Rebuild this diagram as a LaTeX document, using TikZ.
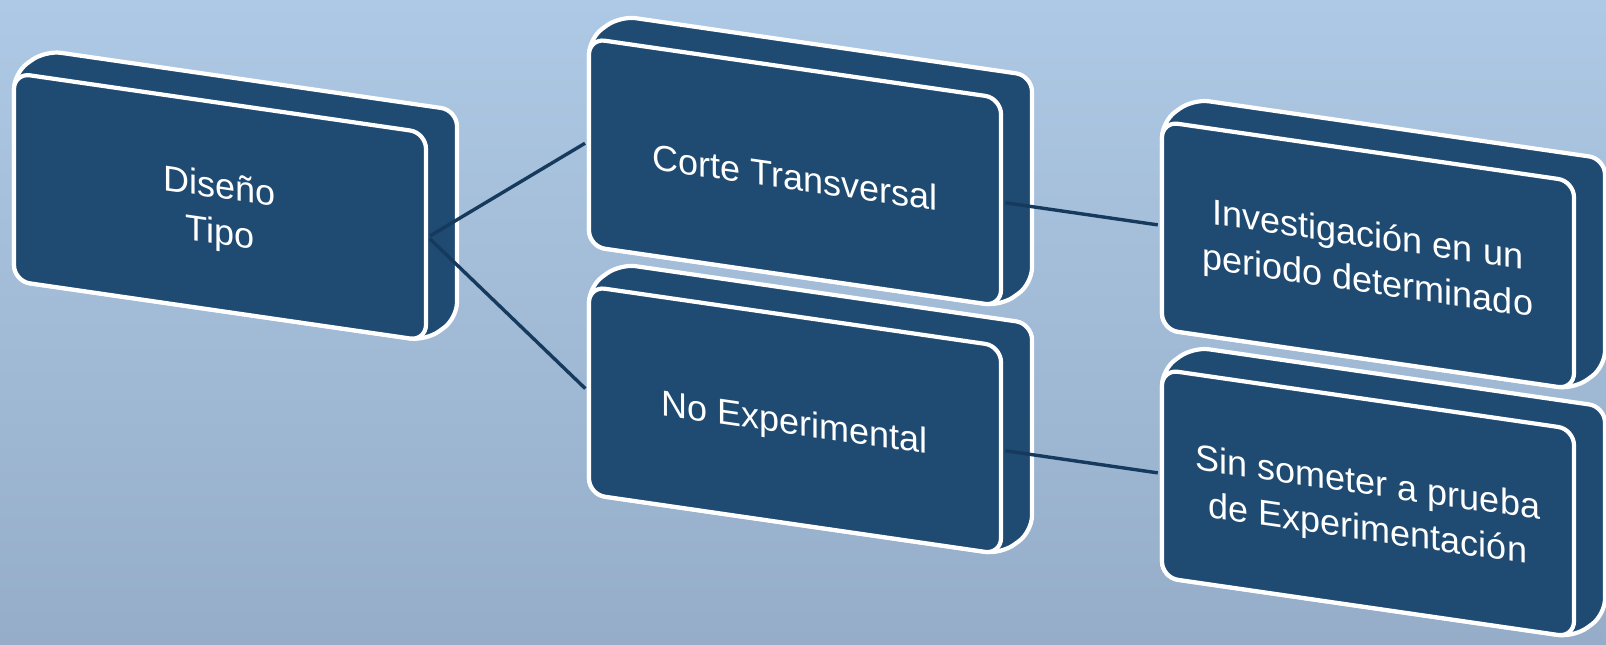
\documentclass[tikz,border=0pt]{standalone}
\usepackage{fontspec}
\newfontfamily\arialf{Liberation Sans}
\definecolor{boxfill}{RGB}{31,74,113}
\definecolor{connc}{RGB}{22,58,94}
\definecolor{bgtop}{RGB}{174,201,229}
\definecolor{bgbot}{RGB}{149,173,200}
\tikzset{
  face/.style={draw=white, line width=2.1pt, fill=boxfill, rounded corners=8pt,
    minimum width=206pt, minimum height=104pt, inner sep=0pt, transform shape},
  facetext/.style={transform shape, inner sep=0pt, text=white, align=center,
    font=\arialf\fontsize{18}{23}\selectfont},
  hull/.style={fill=boxfill, draw=white, line width=2.1pt, rounded corners=8pt},
  conn/.style={draw=connc, line width=1.7pt, shorten <=1.1pt, shorten >=1.1pt}
}
\newcommand\drawbox[4]{%
  \path[hull] (#2-206,#3-104) -- ++(31,-27) -- (#2+237,#3-131)
     -- (#2+237,#3+77) -- (#2+206,#3+104) -- (#2-206,#3+104) -- cycle;
  \node[face] (#1) at (#2,#3) {};
  \node[facetext] (#1t) at (#2,#3+5) {#4};
}
\begin{document}
\begin{tikzpicture}[x=0.5pt,y=-0.5pt]
\shade[top color=bgtop, bottom color=bgbot] (0,0) rectangle (1606,644);
\useasboundingbox (0,0) rectangle (1606,644);
\begin{scope}[cm={1,-0.145,0,1,(0,0)}]
  \drawbox{b1}{220}{175}{Diseño\\Tipo}
  \drawbox{b2}{795}{57}{Corte Transversal}
  \drawbox{b3}{795}{305}{No Experimental}
  \drawbox{b4}{1368}{57}{Investigación en un\\periodo determinado}
  \drawbox{b5}{1368}{305}{Sin someter a prueba\\de Experimentación}
  \draw[conn] (b1.east) -- (b2.west);
  \draw[conn] (b1.east) -- (b3.west);
  \draw[conn] (b2.east) -- (b4.west);
  \draw[conn] (b3.east) -- (b5.west);
\end{scope}
\end{tikzpicture}
\end{document}
